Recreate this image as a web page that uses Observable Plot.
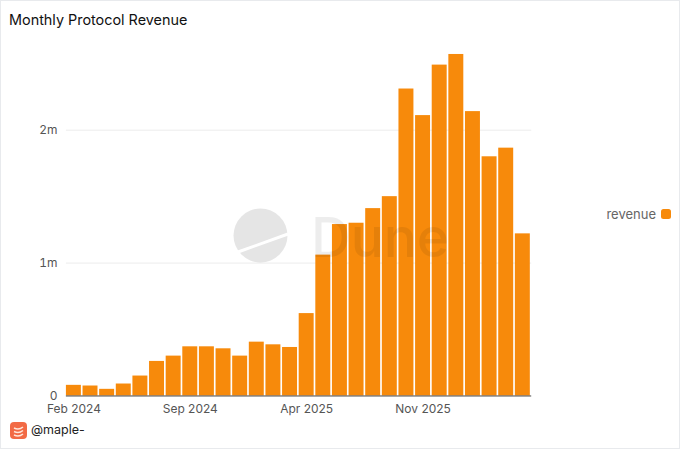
<!DOCTYPE html>
<html>
<head>
<meta charset="utf-8">
<script src="https://cdn.jsdelivr.net/npm/d3@7"></script>
<script src="https://cdn.jsdelivr.net/npm/@observablehq/plot@0.6"></script>
<style>
html,body{margin:0;padding:0;background:#fff;}
body{width:680px;height:449px;overflow:hidden;font-family:Inter,"Open Sans",sans-serif;}
#card{position:relative;width:680px;height:449px;box-sizing:border-box;border:1px solid #e8eaed;overflow:hidden;}
#title{position:absolute;left:8px;top:10px;font-size:14.4px;line-height:18px;color:#111;}
#chart{position:absolute;left:-1px;top:39px;}
#chart svg{display:block;}
#legend{position:absolute;right:8px;top:204px;display:flex;align-items:center;gap:5px;font-size:13px;line-height:18px;color:#666;}
#legend i{display:block;width:10px;height:10px;border-radius:2.5px;background:#f78a0b;}
#user{position:absolute;left:9px;top:420px;display:flex;align-items:center;gap:4px;font-size:12.5px;line-height:18px;color:#222;}
#wm{position:absolute;left:232px;top:187px;pointer-events:none;}
</style>
</head>
<body>
<div id="card">
<div id="title">Monthly Protocol Revenue</div>
<div id="chart"></div>
<svg id="wm" width="240" height="104" viewBox="0 0 240 104">
  <circle cx="27.500" cy="47.500" r="27" fill="#000" fill-opacity="0.1"/>
  <path d="M5 64 L55 46" stroke="#fff" stroke-width="3"/>
  <text x="78" y="69" font-family="Inter,sans-serif" font-size="55" font-weight="500" fill="#000" fill-opacity="0.07">Dune</text>
</svg>
<div id="legend"><span>revenue</span><i></i></div>
<div id="user">
<svg width="17" height="17" viewBox="0 0 17 17"><rect width="17" height="17" rx="4" fill="#f26a45"/><path d="M4 6c3 1.500 6 1.500 9 -1M4 9.500c3 1.500 6 1.500 9 -1M4 13c3 1.500 6 1.500 9 -1" fill="none" stroke="#ffe6da" stroke-width="1.500"/></svg>
<span>@maple-</span></div>
</div>
<script>
const months = ["2024-02","2024-03","2024-04","2024-05","2024-06","2024-07","2024-08","2024-09","2024-10","2024-11","2024-12","2025-01","2025-02","2025-03","2025-04","2025-05","2025-06","2025-07","2025-08","2025-09","2025-10","2025-11","2025-12","2026-01","2026-02","2026-03","2026-04","2026-05"];
const revenue = [80000,75000,50000,90000,150000,260000,300000,370000,370000,355000,300000,405000,385000,365000,620000,1060000,1290000,1300000,1410000,1500000,2310000,2110000,2490000,2570000,2140000,1800000,1865000,1220000];
const tickMonths = {"2024-02":"Feb 2024","2024-09":"Sep 2024","2025-04":"Apr 2025","2025-11":"Nov 2025"};
const yTicks = [0,1000000,2000000];
const yLabels = ["0","1m","2m"];
const rows = months.map((m,i)=>({month:m,revenue:revenue[i]}));

const plot = Plot.plot({
  width:680,height:381,
  marginLeft:66,marginRight:148,marginTop:10,marginBottom:25,
  style:{fontFamily:"Inter,sans-serif",fontSize:"12px",color:"#555",background:"transparent"},
  x:{domain:months,label:null,range:[66,530.6],round:false,paddingInner:0.1,paddingOuter:0,align:0.5},
  y:{domain:[0,2600000],label:null},
  marks:[
    Plot.ruleY(yTicks.slice(1),{stroke:"#ececec",strokeWidth:1}),
    Plot.barY(rows,{x:"month",y:"revenue",fill:"#f78a0b"}),
    Plot.ruleY([0],{stroke:"#444",strokeWidth:1}),
    Plot.axisX({ticks:Object.keys(tickMonths),tickFormat:d=>tickMonths[d],tickSize:0,tickPadding:9,fontSize:12,fill:"#555",label:null}),
    Plot.axisY({ticks:yTicks,tickFormat:d=>yLabels[yTicks.indexOf(d)],tickSize:0,tickPadding:9,fontSize:12,fill:"#555",label:null})
  ]
});
document.getElementById("chart").appendChild(plot);
</script>
</body>
</html>
